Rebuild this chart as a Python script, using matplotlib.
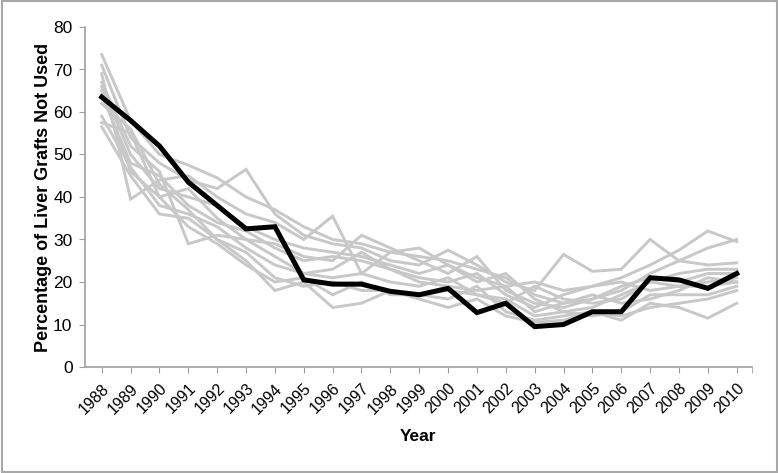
import matplotlib
matplotlib.use("Agg")
import matplotlib.pyplot as plt
from matplotlib.patches import Rectangle
import numpy as np

plt.rcParams['font.family'] = ['Liberation Sans', 'DejaVu Sans']

years = [str(y) for y in range(1988, 2011)]

overall = [63.5, 58, 52, 43.5, 38, 32.5, 33, 20.5, 19.5, 19.5, 17.8, 17, 18.5,
           12.8, 15, 9.5, 10, 13, 13, 21, 20.5, 18.5, 22]

region_1 = [73.5, 58, 50, 47.5, 44.5, 40, 37, 33, 30, 29, 27, 26, 25, 23, 21, 17, 15, 16, 18, 22, 25, 28, 30]
region_2 = [71, 54, 48, 44, 42, 46.5, 36, 31, 29, 28, 25, 24, 27.5, 24, 20, 18, 26.5, 22.5, 23, 30, 25, 24, 24.5]
region_3 = [69, 39.5, 44, 45, 40, 36, 34, 30, 35.5, 22, 27, 28, 24, 21, 19, 20, 18, 19, 21, 24, 27.5, 32, 29.5]
region_4 = [67, 52, 46, 29, 31, 30, 29, 26, 25, 31, 28, 25, 22, 26, 18, 15, 14, 16, 19, 21, 20, 22, 22]
region_5 = [66, 50, 42, 40, 38, 33, 30, 28, 27, 26, 24, 22, 24, 20, 22, 16, 13, 14, 17, 20, 22, 23, 23]
region_6 = [64, 48, 45, 38, 34, 32, 28, 25, 26, 25, 23, 21, 20, 22, 17, 14, 17, 19, 20, 18, 19, 20, 21]
region_7 = [59, 47, 38, 36, 33, 28, 24, 22, 23, 27, 23, 20, 19, 18, 19, 13, 15, 17, 15, 16, 18, 21, 20]
region_8 = [57.5, 55, 40, 42, 35, 30, 26, 22, 21, 22, 20, 19, 21, 17, 16, 12, 13, 12, 13, 17, 17, 17, 19]
region_9 = [56.5, 45, 36, 35, 30, 25, 18, 20, 14, 15, 18, 17, 16, 19, 13, 11, 12, 13, 12, 14, 15, 16, 18]
region_10 = [62, 56, 43, 37, 30, 27, 21, 19, 20, 18, 18, 16, 14, 16, 12, 10.5, 11, 13, 11, 15, 14, 11.5, 15]
region_11 = [65, 46, 40, 33, 29, 24, 20, 21, 17, 20, 17, 17, 18, 17, 15, 19, 16, 15, 16, 20, 19, 19, 20]

regions = [region_1, region_2, region_3, region_4, region_5, region_6,
           region_7, region_8, region_9, region_10, region_11]

fig = plt.figure(figsize=(7.79, 4.73), dpi=100)
ax = fig.add_axes([85 / 779, 1 - 367 / 473, 667 / 779, 340 / 473])

x = np.arange(len(years))
for r in regions:
    ax.plot(x, r, color='#c8c8c8', lw=2.1, solid_joinstyle='miter')
ax.plot(x, overall, color='black', lw=3.6, solid_joinstyle='miter')

xmin, xmax = -0.58, len(years) - 1 + 0.53
ax.set_xlim(xmin, xmax)
ax.set_ylim(0, 80)
ax.set_yticks(range(0, 81, 10))
ax.tick_params(axis='y', labelsize=12.5, length=4, color='#a0a0a0', direction='out', pad=5)

ax.set_xticks(x)
ax.set_xticklabels(years, rotation=45, ha='right', rotation_mode='anchor', fontsize=11.5)
ax.tick_params(axis='x', length=4, color='#a0a0a0', direction='out', pad=6)
ax.set_xticks([xmax], minor=True)
ax.tick_params(axis='x', which='minor', length=4, color='#a0a0a0', direction='out')

for s in ['top', 'right']:
    ax.spines[s].set_visible(False)
for s in ['left', 'bottom']:
    ax.spines[s].set_color('#a0a0a0')
    ax.spines[s].set_linewidth(1.2)

ax.set_ylabel('Percentage of Liver Grafts Not Used', fontsize=13, fontweight='bold', labelpad=1)
ax.set_xlabel('Year', fontsize=12.5, fontweight='bold', labelpad=9)

fig.patches.append(Rectangle((0.002, 0.003), 0.996, 0.994, transform=fig.transFigure,
                             fill=False, edgecolor='#a8a8a8', lw=1.5))

fig.savefig('out.png', dpi=100)
